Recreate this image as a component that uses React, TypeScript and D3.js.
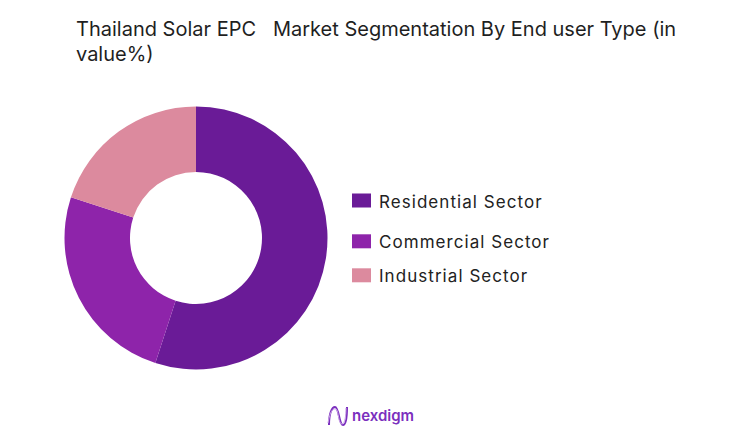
import { useMemo } from "react";
import * as d3 from "d3";

const categories = ["Residential Sector", "Commercial Sector", "Industrial Sector"];
const shares = [55, 25, 20];
const colors = ["#6a1b97", "#8e24aa", "#dc8a9e"];
const titleLines = ["Thailand Solar EPC   Market Segmentation By End user Type (in", "value%)"];

const W = 737;
const H = 435;
// legend row centres (layout only)
const legendRows = [200.5, 241.3, 275.3];

const App = () => {
  const arcs = useMemo(() => {
    const pie = d3.pie<number>().sort(null).value((d) => d);
    return pie(shares);
  }, []);

  const arc = d3.arc<d3.PieArcDatum<number>>().innerRadius(66).outerRadius(131.5);

  return (
    <svg width={W} height={H} style={{ position: "absolute", left: 0, top: 0, background: "#fff" }}>
      <g fontFamily="Inter, 'Open Sans', sans-serif" fill="#1f1f1f">
        {titleLines.map((t, i) => (
          <text key={i} x={76} y={36 + i * 24.5} fontSize={20} style={{ whiteSpace: "pre" }}>
            {t}
          </text>
        ))}
      </g>

      <g transform="translate(196,238)">
        {arcs.map((a, i) => (
          <path key={i} d={arc(a) ?? ""} fill={colors[i]} />
        ))}
      </g>

      <g fontFamily="Inter, 'Open Sans', sans-serif" fontSize={17} fill="#222">
        {categories.map((c, i) => (
          <g key={c} transform={`translate(352,${legendRows[i]})`}>
            <rect x={0} y={-7} width={19} height={14} fill={colors[i]} />
            <text x={27} y={7} style={{ letterSpacing: "1.05px" }}>{c}</text>
          </g>
        ))}
      </g>

      <g transform="translate(327,405)">
        <path
          d="M2,20 C2,8 5,2 8,2 C12,2 12,20 16,20 C19,20 20,12 20,2"
          fill="none"
          stroke="#7b2fbe"
          strokeWidth={2}
        />
        <path
          d="M1,18 C3,6 6,3 9,4 C12,6 11,19 15,19 C18,19 19,10 19,3"
          fill="none"
          stroke="#c9a2e6"
          strokeWidth={1}
        />
        <text x={25} y={16} fontFamily="Inter, 'Open Sans', sans-serif" fontSize={15} fontWeight={600} fill="#7b2fbe">
          nexdigm
        </text>
      </g>
    </svg>
  );
};

export default App;
